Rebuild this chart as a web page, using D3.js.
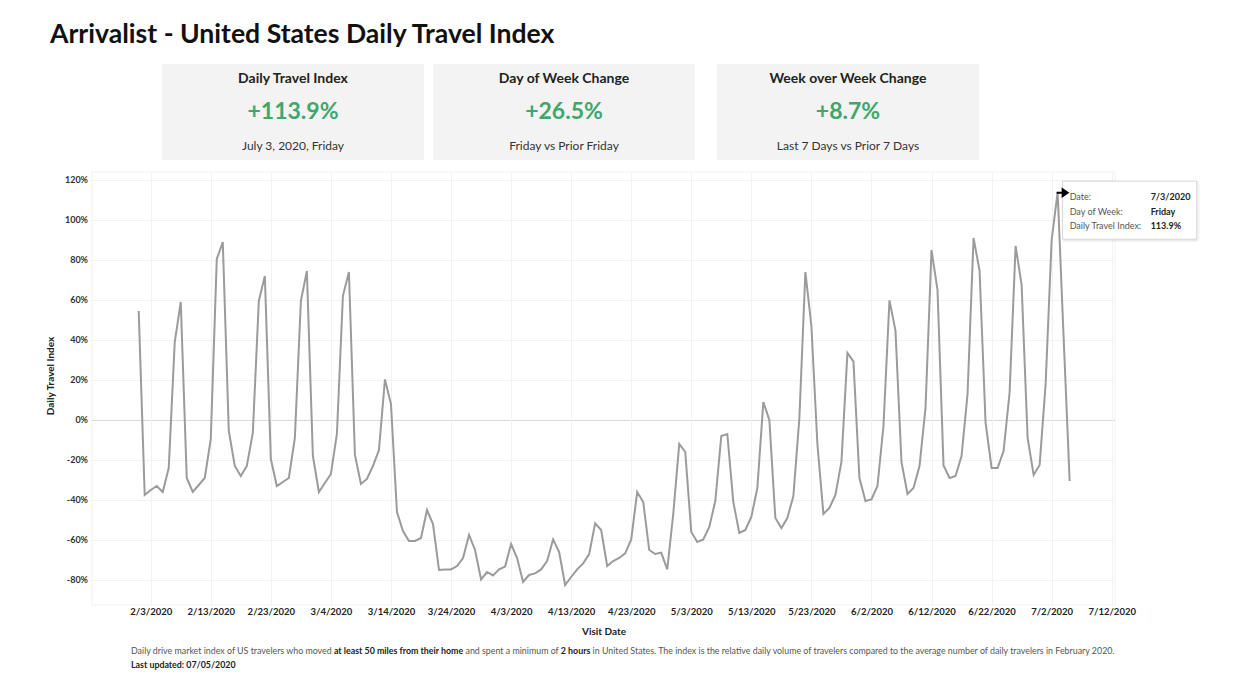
<!DOCTYPE html>
<html><head><meta charset="utf-8">
<script src="https://cdn.jsdelivr.net/npm/d3@7"></script>
<style>
html,body{margin:0;padding:0;background:#fff;}
svg{display:block;font-family:"Lato","Noto Sans",sans-serif;}
</style></head><body>
<svg id="c" width="1242" height="682"></svg>
<script>
// ---------- data ----------
const startDate = "2020-02-01";
const travelIndex = [
  54.5, -37.5, -35, -33, -36, -24, 39, 59, -29, -36, -32.5, -29, -9.5, 80.5, 89,
  -5.5, -23, -28, -23, -6.5, 59.5, 72, -19.5, -33, -31, -29, -9, 59.5, 74.5,
  -18, -36, -31.5, -27, -7, 62, 74, -17.5, -32, -29.5, -23, -15, 20.3, 8, -46,
  -55.5, -60.5, -60.5, -59, -45, -52, -75, -74.7, -74.7, -73, -69, -57.5, -65, -79.7,
  -76, -77.7, -74.7, -73.3, -62, -69, -81, -77.5, -76.7, -74.7, -70.5, -59.7, -66,
  -82.5, -78.5, -74.7, -71.7, -67, -51.7, -55, -73, -70.5, -69, -66.7, -59.7, -36,
  -41, -65, -67, -66.3, -74.7, -47, -12, -16, -56, -61, -59.7, -53.5, -40.5, -8, -7,
  -41, -56.5, -55, -48.5, -34, 9, 0, -49, -54, -49, -38, 1, 74, 47, -12, -47, -44,
  -37.5, -21, 33.5, 29.3, -29, -40.5, -39.7, -33, -3, 59.8, 44.7, -21, -37, -34, -23,
  6, 85, 65, -22.7, -29, -28, -18, 13, 91, 74.7, -1.3, -24, -24, -15.5, 13.7, 87,
  67.7, -9, -27.5, -22.5, 18, 90, 113.9, 41, -30.5
];
const xTickLabels = ["2/3/2020","2/13/2020","2/23/2020","3/4/2020","3/14/2020","3/24/2020",
  "4/3/2020","4/13/2020","4/23/2020","5/3/2020","5/13/2020","5/23/2020","6/2/2020",
  "6/12/2020","6/22/2020","7/2/2020","7/12/2020"];
const yTicks = [-80, -60, -40, -20, 0, 20, 40, 60, 80, 100, 120];
const kpiTitles = ["Daily Travel Index", "Day of Week Change", "Week over Week Change"];
const kpiValues = ["+113.9%", "+26.5%", "+8.7%"];
const kpiSubtitles = ["July 3, 2020, Friday", "Friday vs Prior Friday", "Last 7 Days vs Prior 7 Days"];
const tooltipDate = "7/3/2020";
const tooltipLabels = ["Date:", "Day of Week:", "Daily Travel Index:"];
const tooltipValues = ["7/3/2020", "Friday", "113.9%"];

// ---------- setup ----------
const svg = d3.select("#c");
svg.append("rect").attr("width",1242).attr("height",682).attr("fill","#fff");
const parse = d3.timeParse("%m/%d/%Y");
const start = d3.timeParse("%Y-%m-%d")(startDate);
const series = travelIndex.map((v,i)=>({date:d3.timeDay.offset(start,i), value:v}));
const tickDates = xTickLabels.map(parse);

// title
svg.append("text").attr("x",50).attr("y",43)
  .attr("font-size",26.6).attr("font-weight",700).attr("fill","#111")
  .text("Arrivalist - United States Daily Travel Index");

// KPI cards
const cardX = [162, 433, 717], cardW = 262;
kpiTitles.forEach((t,i)=>{
  const g = svg.append("g").attr("transform",`translate(${cardX[i]},64)`);
  g.append("rect").attr("width",cardW).attr("height",96).attr("fill","#f3f3f3");
  g.append("text").attr("x",cardW/2).attr("y",19).attr("text-anchor","middle")
    .attr("font-size",14).attr("font-weight",700).attr("fill","#222").text(t);
  g.append("text").attr("x",cardW/2).attr("y",55).attr("text-anchor","middle")
    .attr("font-size",23).attr("font-weight",700).attr("fill","#3ea76c").text(kpiValues[i]);
  g.append("text").attr("x",cardW/2).attr("y",86).attr("text-anchor","middle")
    .attr("font-size",12).attr("fill","#333").text(kpiSubtitles[i]);
});

// scales
const plot = {left:92, right:1115, top:172, bottom:605};
const x = d3.scaleTime()
  .domain([start, parse("7/12/2020")])
  .range([138.7, 1111.7]);
const y = d3.scaleLinear().domain([-80,120]).range([580,180]);

// plot frame
svg.append("rect").attr("x",plot.left).attr("y",plot.top)
  .attr("width",plot.right-plot.left).attr("height",plot.bottom-plot.top)
  .attr("fill","none").attr("stroke","#f2f2f2");

// gridlines
svg.append("g").selectAll("line").data(yTicks).join("line")
  .attr("x1",plot.left).attr("x2",plot.right)
  .attr("y1",d=>y(d)+0.5).attr("y2",d=>y(d)+0.5)
  .attr("stroke",d=>d===0?"#d9d9d9":"#f2f2f2").attr("stroke-width",1);
svg.append("g").selectAll("line").data(tickDates).join("line")
  .attr("y1",plot.top).attr("y2",plot.bottom)
  .attr("x1",d=>Math.round(x(d))+0.5).attr("x2",d=>Math.round(x(d))+0.5)
  .attr("stroke","#f2f2f2");

// y axis
const yAxis = d3.axisLeft(y).tickValues(yTicks).tickFormat(d=>d+"%").tickSize(0).tickPadding(0);
const gy = svg.append("g").attr("transform","translate(88,0)").call(yAxis);
gy.select(".domain").remove();
gy.selectAll("text").attr("font-size",9).attr("font-weight",700).attr("fill","#333")
  .attr("font-family","Lato, 'Noto Sans', sans-serif");

// x axis
const xAxis = d3.axisBottom(x).tickValues(tickDates).tickFormat((d,i)=>xTickLabels[i]).tickSize(0).tickPadding(0);
const gx = svg.append("g").attr("transform","translate(0,608)").call(xAxis);
gx.select(".domain").remove();
gx.selectAll("text").attr("font-size",9.5).attr("font-weight",700).attr("fill","#222")
  .attr("font-family","Lato, 'Noto Sans', sans-serif");

// axis titles
svg.append("text").attr("x",604).attr("y",635).attr("text-anchor","middle")
  .attr("font-size",10).attr("font-weight",700).attr("fill","#222").text("Visit Date");
svg.append("text").attr("transform","translate(54,376) rotate(-90)").attr("text-anchor","middle")
  .attr("font-size",10).attr("font-weight",700).attr("fill","#222").text("Daily Travel Index");

// line
const line = d3.line().x(d=>x(d.date)).y(d=>y(d.value));
svg.append("path").datum(series).attr("d",line)
  .attr("fill","none").attr("stroke","#9b9b9b").attr("stroke-width",2);

// tooltip
const defs = svg.append("defs");
const f = defs.append("filter").attr("id","sh").attr("x","-10%").attr("y","-10%").attr("width","130%").attr("height","140%");
f.append("feDropShadow").attr("dx",1).attr("dy",1).attr("stdDeviation",1.2).attr("flood-color","#000").attr("flood-opacity",0.15);
const tipPoint = series.find(d=>+d.date===+parse(tooltipDate));
const px = x(tipPoint.date), py = y(tipPoint.value);
svg.append("rect").attr("x",px+5).attr("y",py-11).attr("width",134).attr("height",58)
  .attr("fill","#fff").attr("stroke","#d8d8d8").attr("filter","url(#sh)");
svg.append("path")
  .attr("d",`M${px-1},${py+0.5} L${px+6},${py+0.5} M${px+5},${py-3} L${px+10},${py+0.5} L${px+5},${py+4} Z`)
  .attr("stroke","#000").attr("stroke-width",2).attr("fill","#000");
tooltipLabels.forEach((l,i)=>{
  svg.append("text").attr("x",px+12).attr("y",py+8+i*14.5).attr("font-size",9).attr("fill","#555").text(l);
  svg.append("text").attr("x",px+93).attr("y",py+8+i*14.5).attr("font-size",9).attr("font-weight",700).attr("fill","#222").text(tooltipValues[i]);
});

// footer
const ft = svg.append("text").attr("x",131).attr("y",654).attr("font-size",8.86).attr("fill","#555");
ft.append("tspan").text("Daily drive market index of US travelers who moved ");
ft.append("tspan").attr("font-weight",700).attr("fill","#222").text("at least 50 miles from their home");
ft.append("tspan").text(" and spent a minimum of ");
ft.append("tspan").attr("font-weight",700).attr("fill","#222").text("2 hours");
ft.append("tspan").text(" in United States. The index is the relative daily volume of travelers compared to the average number of daily travelers in February 2020.");
svg.append("text").attr("x",131).attr("y",668).attr("font-size",8.86).attr("font-weight",700).attr("fill","#222")
  .text("Last updated: 07/05/2020");
</script>
</body></html>
